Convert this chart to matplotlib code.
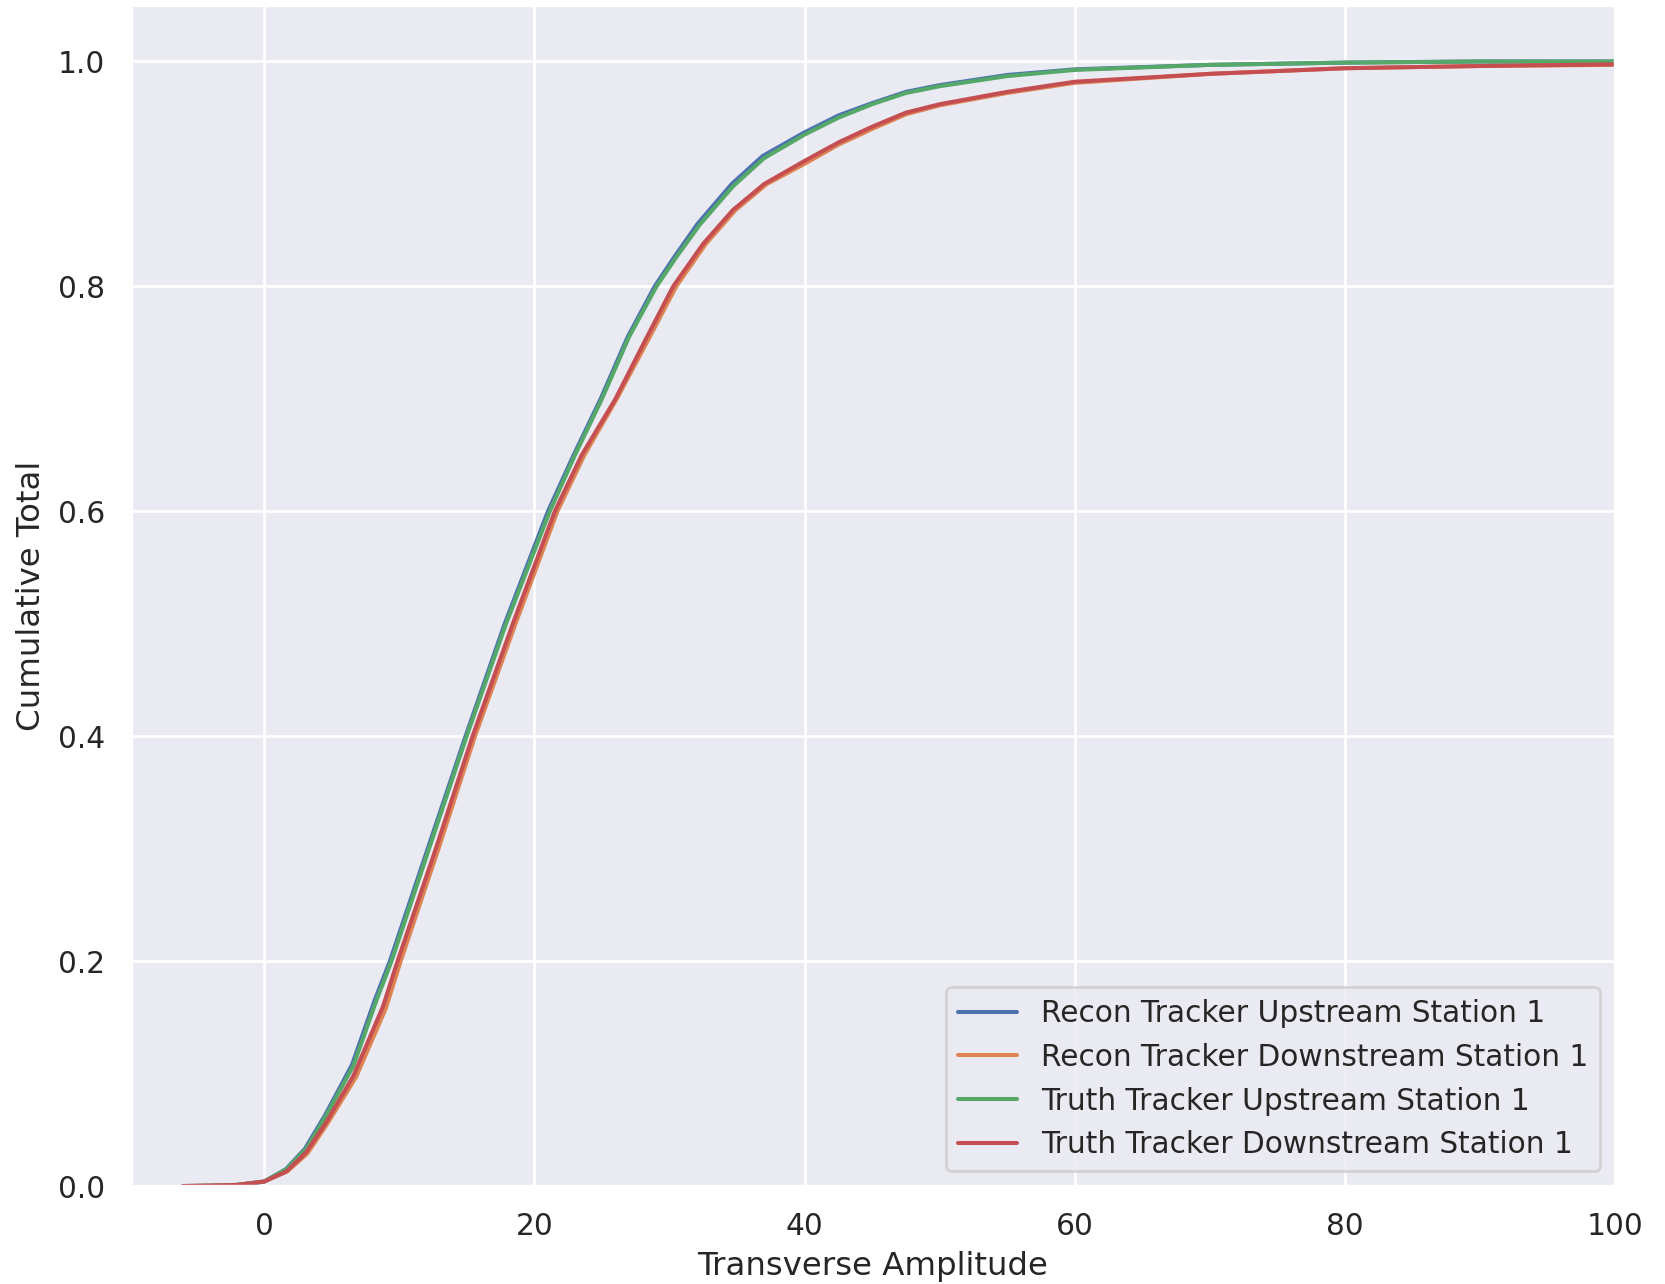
import numpy as np
import matplotlib
matplotlib.use("Agg")
import matplotlib.pyplot as plt
import seaborn as sns

sns.set_theme(style="darkgrid")

# cumulative curves (x = transverse amplitude)
recon_us_x = [-6, -4, -2, 0, 1.6, 3.0, 4.5, 6.5, 8.2, 9.3, 12.1, 14.9, 17.8, 21.0, 22.9, 24.9, 26.9, 28.9, 30.4, 32.1, 34.6, 36.9, 40, 42.5, 45, 47.5, 50, 55, 60, 70, 80, 90, 100]
recon_us_y = [0.0, 0.0003, 0.001, 0.004, 0.015, 0.033, 0.063, 0.108, 0.166, 0.2, 0.3, 0.4, 0.5, 0.6, 0.65, 0.7, 0.755, 0.8, 0.827, 0.856, 0.891, 0.916, 0.937, 0.952, 0.963, 0.973, 0.979, 0.988, 0.993, 0.997, 0.999, 1.0, 1.0]

recon_ds_x = [-6, -4, -2, 0, 1.7, 3.2, 4.7, 6.8, 9.0, 10.1, 12.9, 15.6, 18.6, 21.7, 23.7, 26.1, 28.4, 30.5, 32.7, 34.9, 37.2, 40, 42.5, 45, 47.5, 50, 55, 60, 70, 80, 90, 100]
recon_ds_y = [0.0, 0.0003, 0.001, 0.004, 0.013, 0.029, 0.056, 0.097, 0.158, 0.2, 0.3, 0.4, 0.5, 0.6, 0.65, 0.7, 0.752, 0.8, 0.838, 0.868, 0.891, 0.909, 0.926, 0.940, 0.953, 0.961, 0.972, 0.981, 0.989, 0.994, 0.996, 0.997]

truth_us_x = [-6, -4, -2, 0, 1.65, 3.1, 4.6, 6.6, 8.3, 9.42, 12.2, 14.98, 17.9, 21.14, 23.0, 25.0, 27.0, 29.04, 30.5, 32.25, 34.7, 37, 40, 42.5, 45, 47.5, 50, 55, 60, 70, 80, 90, 100]
truth_us_y = [0.0, 0.0003, 0.001, 0.004, 0.015, 0.033, 0.063, 0.107, 0.165, 0.2, 0.3, 0.4, 0.5, 0.6, 0.65, 0.7, 0.755, 0.8, 0.826, 0.855, 0.889, 0.914, 0.935, 0.950, 0.962, 0.972, 0.978, 0.987, 0.9925, 0.997, 0.999, 1.0, 1.0]

truth_ds_x = [-6, -4, -2, 0, 1.65, 3.1, 4.6, 6.6, 8.8, 9.87, 12.7, 15.42, 18.4, 21.51, 23.5, 26.0, 28.2, 30.27, 32.5, 34.7, 37, 40, 42.5, 45, 47.5, 50, 55, 60, 70, 80, 90, 100]
truth_ds_y = [0.0, 0.0003, 0.001, 0.004, 0.013, 0.030, 0.057, 0.098, 0.160, 0.2, 0.3, 0.4, 0.5, 0.6, 0.65, 0.7, 0.752, 0.8, 0.838, 0.868, 0.891, 0.9116, 0.928, 0.942, 0.9545, 0.962, 0.973, 0.982, 0.989, 0.994, 0.996, 0.9975]

labels = ["Recon Tracker Upstream Station 1",
          "Recon Tracker Downstream Station 1",
          "Truth Tracker Upstream Station 1",
          "Truth Tracker Downstream Station 1"]

dpi = 194
fig = plt.figure(figsize=(1665 / dpi, 1284 / dpi), dpi=dpi)
ax = fig.add_axes([0.0784, 0.0763, 0.8916, 0.9196])

ax.plot(recon_us_x, recon_us_y, label=labels[0])
ax.plot(recon_ds_x, recon_ds_y, label=labels[1])
ax.plot(truth_us_x, truth_us_y, label=labels[2])
ax.plot(truth_ds_x, truth_ds_y, label=labels[3])

ax.set_xlim(-9.9, 100)
ax.set_ylim(0, 1.05)
ax.set_xlabel("Transverse Amplitude")
ax.set_ylabel("Cumulative Total")
ax.legend(loc="lower right")

fig.savefig("out.png", dpi=dpi)
